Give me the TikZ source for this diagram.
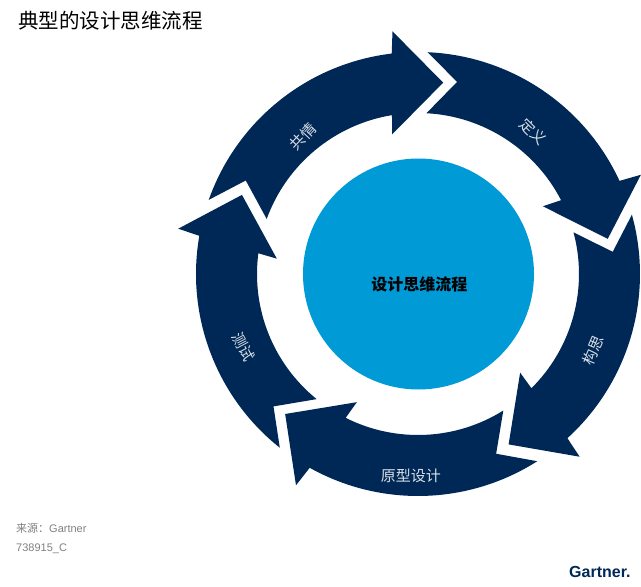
\documentclass[tikz,border=0pt]{standalone}
\usepackage{fontspec}
\setmainfont{Liberation Sans}
\newfontfamily\cjk{Noto Sans CJK SC}
\usetikzlibrary{positioning}
\definecolor{gartnernavy}{HTML}{002856}
\definecolor{gartnerblue}{HTML}{009AD7}
\definecolor{notegray}{HTML}{7F7F7F}

\begin{document}
\begin{tikzpicture}[
    x=1pt,y=1pt,
    steplabel/.style={text=white!85!gartnernavy,inner sep=0pt,font=\cjk\fontsize{15}{15}\selectfont},
    note/.style={anchor=west,inner sep=0pt,text=notegray,font=\fontsize{11}{11}\selectfont}
  ]
    % Page frame, origin at the centre of the ring
    \useasboundingbox (-418,-313) rectangle (223,274);

    % Ring of five arrows (the other two values nudge arrow head and tail)
    \foreach \a/\h/\t in {0/0/1,-72/0/0,-144/-0.5/0,-216/0/-1,-288/1.3/0} {
      \fill[gartnernavy] (\a+\t+159.5:222) arc[start angle=\a+\t+159.5,end angle=\a+\h+96.8,radius=222]
        -- (\a+\h+96:244) -- (\a+\h+82.5:193) -- (\a+\h+100.5:142) -- (\a+\h+99.3:161)
        arc[start angle=\a+\h+99.3,end angle=\a+\t+159,radius=161] -- (\a+\t+150.5:196) -- cycle;
    }

    % Centre
    \node[circle,fill=gartnerblue,minimum size=231pt,inner sep=0pt] (hub) at (0.5,0) {};
    \node[inner sep=0pt,font=\cjk\bfseries\fontsize{16}{16}\selectfont] (hublabel) at (1.5,-10) {设计思维流程};

    % Step labels
    \node[steplabel,rotate=47] (empathize) at (130:179) {共情};
    \node[steplabel,rotate=-45] (define) at (51:183) {定义};
    \node[steplabel,rotate=67] (ideate) at (-23.5:191) {构思};
    \node[steplabel] (prototype) at (-92:202) {原型设计};
    \node[steplabel,rotate=-62] (test) at (202.8:189) {测试};

    % Title and footer
    \node[anchor=west,inner sep=0pt,font=\cjk\fontsize{20.5}{20.5}\selectfont] (title) at (-400,253) {典型的设计思维流程};
    \node[note] (source) at (-402,-254) {{\cjk 来源：}Gartner};
    \node[note] (docid) at (-402,-275) {738915\_C};
    \node[anchor=west,inner sep=0pt,text=gartnernavy,font=\bfseries\fontsize{16}{16}\selectfont] (logo) at (151,-298) {Gartner.};
  \end{tikzpicture}
\end{document}
